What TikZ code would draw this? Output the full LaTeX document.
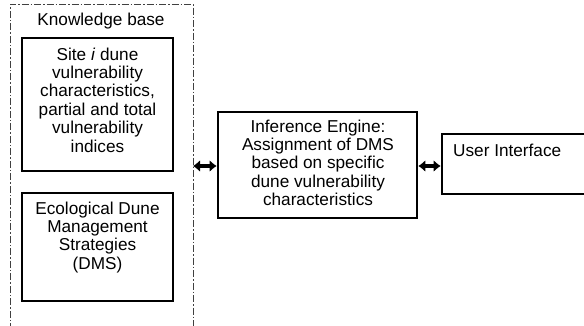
\documentclass[tikz,border=0pt]{standalone}
\usepackage{fontspec}
\setmainfont{Liberation Sans}
\usetikzlibrary{arrows.meta}
\begin{document}
\begin{tikzpicture}[x=1pt,y=-1pt,
  box/.style={draw,line width=2.6pt,inner sep=0pt},
  txt/.style={font=\fontsize{17.2}{18.4}\selectfont,align=center,inner sep=0pt,anchor=north},
  frame/.style={line width=0.9pt,black!75,dash pattern=on 7pt off 2pt on 1.5pt off 2pt},
  link/.style={line width=3.2pt,{Latex[length=7pt,width=12pt]}-{Latex[length=7pt,width=12pt]}}]
\useasboundingbox (0,0) rectangle (584,325);
% knowledge base frame (open at bottom)
\draw[frame] (10,330) -- (10,4) -- (193,4) -- (193,330);
\node[txt,anchor=base] (kbt) at (101,25) {Knowledge base};
% boxes
\node[box,minimum width=151,minimum height=133] (site) at (97.5,104.5) {};
\node[txt] (sitet) at (97.5,47.5) {Site \textit{i} dune\\vulnerability\\characteristics,\\partial and total\\vulnerability\\indices};
\node[box,minimum width=151,minimum height=108] (eco) at (97.5,247) {};
\node[txt] (ecot) at (97.5,201.5) {Ecological Dune\\Management\\Strategies\\(DMS)};
\node[box,minimum width=199,minimum height=106] (ie) at (317.5,165) {};
\node[txt] (iet) at (318,119.5) {Inference Engine:\\Assignment of DMS\\based on specific\\dune vulnerability\\characteristics};
\node[box,minimum width=160,minimum height=60] (ui) at (522,164) {};
\node[txt,anchor=base west] (uit) at (453,156) {User Interface};
% connectors
\coordinate (kbedge) at (193,166);
\draw[link] (kbedge) -- (ie.west |- kbedge);
\draw[link] (ie.east |- kbedge) -- (ui.west |- kbedge);
\end{tikzpicture}
\end{document}
